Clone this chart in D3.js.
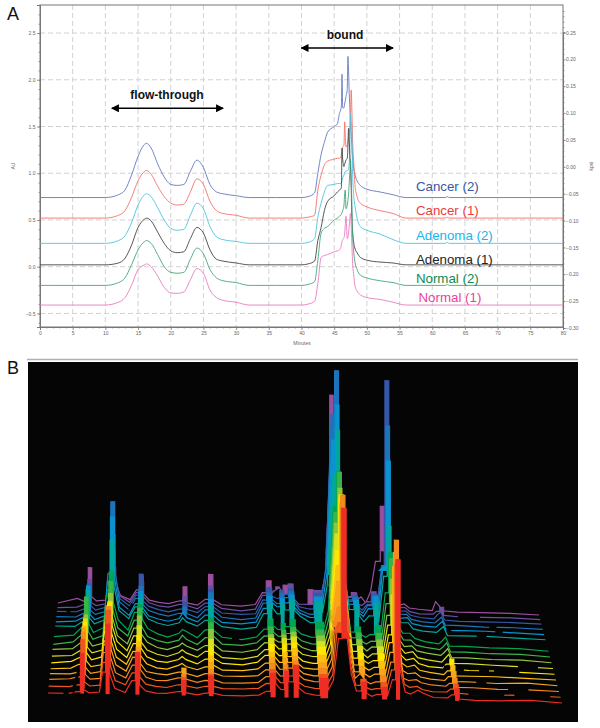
<!DOCTYPE html>
<html>
<head>
<meta charset="utf-8">
<script src="https://cdn.jsdelivr.net/npm/d3@7"></script>
<style>
html,body{margin:0;padding:0;background:#fff;}
text{font-family:"Liberation Sans",Arial,sans-serif;}
</style>
</head>
<body>
<svg id="chart" width="600" height="728"></svg>
<script>
// ---------- Panel A data ----------
const minutes = [0,2,10,12,13,14,15,16,16.3,17,18,19,20,21,22,23,24,25,26,27,28,30,32,36,40,41,42,42.5,43,43.5,44,45,45.5,45.8,46,46.1,46.2,46.3,46.5,46.6,46.7,46.8,47,47.1,47.2,47.3,47.4,47.5,47.6,47.7,47.8,48,48.2,48.5,49,50,52,54,56,58,62,62.3,62.6,70,80];
const cancer2 = [.74,.74,.74,.77,.82,.98,1.18,1.31,1.32,1.27,1.10,.96,.88,.87,.88,1.02,1.14,1.06,.88,.80,.78,.76,.74,.74,.74,.75,.79,1.0,1.2,1.33,1.44,1.50,1.53,1.64,1.68,1.72,2.06,1.70,1.70,1.74,1.78,1.82,1.9,2.25,2.1,1.85,1.7,1.5,1.42,1.3,1.18,1.05,.98,.92,.87,.83,.80,.77,.74,.74,.74,.75,.74,.74,.74];
const cancer1 = [.52,.52,.52,.55,.60,.74,.92,1.02,1.03,.99,.86,.75,.68,.66,.67,.80,.94,.88,.70,.60,.57,.55,.52,.52,.52,.53,.55,.82,.98,1.09,1.13,1.15,1.16,1.16,1.17,1.2,1.24,1.28,1.3,1.55,1.4,1.28,1.3,1.34,1.38,1.42,1.5,1.62,1.89,1.7,1.4,1.1,.86,.75,.68,.64,.60,.57,.52,.52,.52,.53,.52,.52,.52];
const adenoma2 = [.25,.25,.25,.28,.33,.47,.66,.77,.78,.75,.63,.50,.41,.39,.40,.55,.68,.62,.43,.32,.29,.27,.25,.25,.25,.26,.30,.53,.68,.80,.87,.88,.89,.89,.89,.90,.92,.95,.98,1.01,1.02,1.02,1.03,1.03,1.05,1.1,1.3,1.64,1.55,1.42,1.05,.75,.64,.52,.43,.39,.35,.29,.25,.25,.25,.26,.25,.25,.25];
const adenoma1 = [.02,.02,.02,.04,.09,.23,.42,.51,.52,.49,.37,.25,.17,.15,.16,.30,.42,.36,.18,.08,.06,.04,.02,.02,.02,.03,.06,.28,.42,.60,.70,.76,.80,.82,.83,.85,1.27,1.15,1.07,1.1,1.12,1.14,1.16,1.28,1.48,1.35,1.2,1.07,.85,.54,.40,.25,.19,.15,.10,.07,.05,.04,.02,.02,.02,.02,.02,.02,.02];
const normal2 = [-.20,-.20,-.20,-.17,-.12,.02,.18,.27,.28,.25,.13,.0,-.06,-.07,-.06,.08,.20,.14,-.03,-.12,-.15,-.17,-.20,-.20,-.20,-.19,-.16,.07,.36,.41,.43,.50,.52,.54,.55,.56,.58,.60,.66,.78,.82,.62,.66,.71,.78,.9,1.02,1.14,.95,.7,.36,.15,.04,-.03,-.09,-.12,-.15,-.17,-.20,-.20,-.20,-.19,-.20,-.20,-.20];
const normal1 = [-.41,-.41,-.41,-.38,-.33,-.20,-.03,.02,.03,.0,-.10,-.22,-.28,-.285,-.27,-.14,-.02,-.07,-.25,-.33,-.36,-.38,-.41,-.41,-.41,-.40,-.37,-.18,.10,.12,.13,.16,.17,.18,.20,.24,.27,.29,.31,.35,.45,.54,.30,.31,.36,.44,.52,.57,.45,.25,.07,-.10,-.21,-.26,-.30,-.33,-.35,-.38,-.41,-.41,-.41,-.41,-.41,-.41,-.41];
const seriesNames = ["Cancer (2)","Cancer (1)","Adenoma (2)","Adenoma (1)","Normal (2)","Normal (1)"];
const seriesValues = [cancer2,cancer1,adenoma2,adenoma1,normal2,normal1];
const seriesLine = ["#6478c0","#f2736c","#4cc4de","#444444","#46a67a","#e87cc0"];
const seriesLabel = ["#3a55a4","#ed3b3b","#1ab5e8","#222222","#0f8a50","#ec3f9b"];
const labelLevels = [.81,.555,.285,.03,-.175,-.375];
const auTicks = [-.5,0,.5,1,1.5,2,2.5];
const kpsiTicks = [-.30,-.25,-.20,-.15,-.10,-.05,0,.05,.10,.15,.20,.25];
const minuteTicks = d3.range(0,81,5);

// ---------- Panel B data ----------
const gridT = [0,4,5.6,6.3,7,8, 10,10.6,11.2,12,13,15, 16.3,17,17.8,19,21,23, 25.3,26,26.8,29, 30.6,31.3,32.2,34,38,41, 42.5,43.3,44.3,45.3,46,46.8,47.8,48.8, 50,52,53,54.5,55.5, 56.5,57.2,58,59, 60,61,62,63,64,65,66, 67,67.7,68.5,69.5, 70.5,72,73,75,77.8, 78.5,79.2,80, 83,88,94,100];
const run0  = [0,0,2,40,4,1, 2,22,70,20,6,2, 14,42,10,4,2,2, 4,15,3,1, 3,20,3,1,1,2, 6,24,14,8,26,16,32,10, 5,3,20,8,18, 60,190,70,25, 8,17,6,3,5,12,3, 20,140,30,8, 6,10,7,3,3, 6,12,2, 1,1,2,0];
const run1  = [1,1,3,48,6,2, 3,26,78,24,8,4, 16,36,12,5,3,2, 5,12,4,2, 4,16,4,2,2,3, 8,22,15,9,22,16,27,10, 6,4,18,9,18, 70,185,95,28, 8,14,6,4,5,11,4, 24,130,36,10, 7,8,5,3,3, 6,11,2, 1,1,1,0];
const run2  = [2,3,5,50,8,3, 4,30,76,26,10,5, 18,32,14,6,3,3, 6,10,5,2, 4,15,5,2,2,3, 9,22,16,10,21,18,25,12, 7,5,18,10,20, 80,192,110,32, 9,14,7,4,6,12,5, 26,148,40,10, 8,9,6,4,3, 6,11,2, 2,1,1,0];
const run3  = [2,2,4,48,9,3, 5,32,70,28,12,6, 20,30,14,6,4,3, 6,10,5,2, 5,16,6,3,3,4, 10,22,18,11,22,18,24,12, 7,5,18,11,22, 100,180,100,36, 10,15,8,5,8,13,6, 30,130,44,12, 9,10,6,4,3, 7,12,2, 2,1,2,0];
const run4  = [1,2,6,44,10,4, 6,30,60,30,14,7, 20,30,16,8,4,3, 7,9,6,3, 6,17,8,3,3,5, 11,22,18,12,22,18,26,12, 7,6,20,12,24, 110,170,105,40, 11,16,9,6,9,15,7, 34,110,46,14, 10,12,7,5,3, 7,12,2, 2,2,1,0];
const run5  = [1,3,7,42,12,5, 8,34,62,32,16,8, 22,30,18,9,5,4, 7,10,7,3, 8,18,9,4,3,6, 13,24,18,13,24,18,26,13, 8,6,22,12,26, 120,175,110,44, 12,17,10,7,10,17,8, 36,60,50,16, 11,13,8,5,4, 8,13,3, 2,2,1,0];
const run6  = [2,3,8,40,12,6, 9,36,58,34,18,9, 24,34,18,10,6,4, 8,11,8,4, 10,22,10,4,3,6, 13,24,19,14,24,19,26,14, 9,7,22,13,28, 130,165,110,46, 13,18,11,7,11,18,9, 40,70,52,18, 12,14,8,6,4, 8,12,3, 3,2,1,0];
const run7  = [3,4,10,38,14,7, 10,38,60,36,18,10, 26,38,20,12,7,5, 9,12,9,5, 10,26,12,5,4,7, 14,22,18,15,22,18,25,15, 10,7,22,14,30, 135,170,115,50, 14,19,12,8,12,19,10, 44,80,56,20, 13,14,9,7,5, 8,12,3, 3,2,2,0];
const run8  = [2,5,12,50,16,8, 12,42,66,38,20,12, 28,40,22,12,8,6, 9,14,10,5, 12,27,14,6,5,8, 15,24,19,15,21,18,24,16, 11,8,22,14,34, 140,180,120,52, 15,20,12,9,12,20,10, 50,95,60,22, 14,14,9,7,5, 8,12,3, 3,2,2,0];
const run9  = [4,6,14,44,18,9, 14,46,70,40,22,12, 30,38,24,14,9,6, 10,14,12,6, 14,26,14,7,5,8, 16,26,20,16,22,19,26,17, 12,9,24,16,36, 140,175,125,55, 15,20,13,10,13,22,11, 55,95,62,24, 15,15,10,7,5, 8,12,3, 3,2,2,0];
const run10 = [3,3,8,40,12,6, 10,40,90,44,20,12, 24,33,20,12,8,6, 9,14,10,6, 12,26,12,6,4,6, 20,30,26,20,30,24,34,24, 18,12,32,22,50, 160,205,150,60, 26,30,20,14,20,32,14, 60,110,70,26, 14,14,8,6,5, 8,11,2, 2,2,1,0];
const run11 = [2,3,7,38,10,5, 9,44,108,48,18,10, 22,34,18,10,7,5, 8,14,9,5, 12,28,12,5,4,6, 20,32,26,22,30,26,34,22, 16,12,32,22,56, 190,225,160,60, 26,30,18,14,22,34,14, 65,170,70,24, 13,14,8,6,5, 8,11,2, 2,2,1,0];
const run12 = [2,2,6,34,9,5, 8,46,118,50,18,10, 22,34,16,10,7,5, 8,14,8,4, 12,29,12,5,3,5, 20,30,24,20,30,26,32,22, 14,10,28,22,60, 210,254,150,50, 24,28,16,12,20,30,12, 60,200,66,22, 12,12,7,5,4, 7,10,2, 2,1,1,0];
const run13 = [2,2,5,30,8,4, 7,34,80,40,16,9, 20,41,14,9,6,4, 7,14,7,4, 10,27,10,4,3,4, 18,30,22,20,28,24,30,18, 12,10,26,20,50, 170,200,110,40, 20,24,14,10,16,26,10, 55,240,60,18, 10,10,6,4,3, 7,10,2, 1,1,1,0];
const run14 = [1,2,5,30,7,4, 6,30,60,30,14,8, 18,34,14,8,5,4, 7,15,6,3, 9,26,9,4,2,4, 18,26,20,24,26,20,30,16, 10,10,24,18,40, 160,190,80,32, 18,22,12,10,14,24,8, 40,110,45,16, 9,9,5,3,3, 6,10,2, 1,1,1,0];
const run15 = [1,6,3,37,8,4, 5,18,38,20,10,6, 16,24,12,6,4,3, 6,20,4,2, 8,33,8,3,2,4, 16,28,18,22,16,24,12,6, 4,20,10,8,24, 215,170,60,26, 14,18,10,14,8,20,50, 105,70,30,12, 6,8,4,3,2, 11,7,2, 1,1,1,0];
const runs = [run0,run1,run2,run3,run4,run5,run6,run7,run8,run9,run10,run11,run12,run13,run14,run15];
const runDepth = [0,1,2,3,4,5,6,7,8,9,11,11.9,12.8,13.7,14.5,15.3];
const runColor = ["#ee2e24","#f1561f","#f58a1f","#f9a51a","#fdc010","#ffe600","#d9e021","#8dc63f","#39b54a","#00a651","#00a79d","#0a93d1","#1c75bc","#3558a8","#6a4fa3","#9b4f9e"];
const gapRun   = [0,0,1,1,14,12,11,11,10,5,5,5,2,13,12,6,9,3];
const gapStart = [3,4.8,82,91,83,89,80,90,86,78,85,88,90,2,15,93,36,84];
const gapEnd   = [4,6,89,98,87.5,90.5,81,91.5,88,82,87,93,94,2.8,15.7,97,37.5,86];
const solidFloor = 60;

// ---------- Drawing ----------
const svg = d3.select("#chart");
svg.append("defs").selectAll("marker").data(["start","end"]).join("marker")
  .attr("id",d=>"ah-"+d).attr("markerUnits","userSpaceOnUse")
  .attr("viewBox","0 0 8 8").attr("refX",d=>d==="end"?7:1).attr("refY",4)
  .attr("markerWidth",8).attr("markerHeight",8).attr("orient","auto")
  .append("path").attr("d",d=>d==="end"?"M0,0L8,4L0,8Z":"M8,0L0,4L8,8Z").attr("fill","#000");

svg.append("text").text("A").attr("x",7).attr("y",20).attr("font-size",18).attr("fill","#111");
svg.append("text").text("B").attr("x",7).attr("y",374).attr("font-size",18).attr("fill","#111");

// Panel A
const xA = d3.scaleLinear().domain([0,80]).range([40,563]);
const yA = d3.scaleLinear().domain([-.645,2.8]).range([327,5]);
const yK = d3.scaleLinear().domain([-.30,.25]).range([328,32.5]);
const A = svg.append("g");
A.append("g").selectAll("line").data(minuteTicks.slice(1,-1)).join("line")
  .attr("x1",d=>xA(d)).attr("x2",d=>xA(d)).attr("y1",yA.range()[1]).attr("y2",yA.range()[0])
  .attr("stroke","#d2d2d2").attr("stroke-dasharray","5,3");
A.append("g").selectAll("line").data(auTicks).join("line")
  .attr("y1",d=>yA(d)).attr("y2",d=>yA(d)).attr("x1",40).attr("x2",563)
  .attr("stroke","#d2d2d2").attr("stroke-dasharray","5,3");
A.append("rect").attr("x",40).attr("y",5).attr("width",523).attr("height",322)
  .attr("fill","none").attr("stroke","#777");

function styleAxis(g){
  g.select(".domain").attr("stroke","#777");
  g.selectAll(".tick line").attr("stroke","#777").attr("stroke-width",.7);
  g.selectAll("text").attr("font-size",5).attr("fill","#666");
}
A.append("g").attr("transform","translate(0,327)")
  .call(d3.axisBottom(xA).tickValues(d3.range(0,81,1)).tickSize(1.5).tickFormat(""))
  .call(styleAxis);
A.append("g").attr("transform","translate(0,327)")
  .call(d3.axisBottom(xA).tickValues(minuteTicks).tickSize(3).tickPadding(1.5).tickFormat(d3.format("d")))
  .call(styleAxis);
A.append("g").attr("transform","translate(40,0)")
  .call(d3.axisLeft(yA).tickValues(d3.range(-.6,2.75,.1)).tickSize(1.5).tickFormat(""))
  .call(styleAxis);
A.append("g").attr("transform","translate(40,0)")
  .call(d3.axisLeft(yA).tickValues(auTicks).tickSize(3).tickPadding(1.5).tickFormat(d3.format(".1f")))
  .call(styleAxis);
A.append("g").attr("transform","translate(563,0)")
  .call(d3.axisRight(yK).tickValues(d3.range(-.29,.295,.01)).tickSize(1.5).tickFormat(""))
  .call(styleAxis);
A.append("g").attr("transform","translate(563,0)")
  .call(d3.axisRight(yK).tickValues(kpsiTicks).tickSize(2.5).tickPadding(.5).tickFormat(d3.format(".2f")))
  .call(styleAxis);
A.append("text").text("Minutes").attr("x",302).attr("y",345).attr("text-anchor","middle").attr("font-size",5).attr("fill","#666");
A.append("text").text("AU").attr("transform","translate(15,166) rotate(-90)").attr("text-anchor","middle").attr("font-size",5).attr("fill","#666");
A.append("text").text("kpsi").attr("transform","translate(593,166) rotate(-90)").attr("text-anchor","middle").attr("font-size",5).attr("fill","#666");

const lineA = d3.line().x((d,i)=>xA(minutes[i])).y(d=>yA(d)).curve(d3.curveMonotoneX);
A.append("g").selectAll("path").data(seriesValues).join("path")
  .attr("d",lineA).attr("fill","none").attr("stroke",(d,i)=>seriesLine[i]).attr("stroke-width",.9);
A.append("g").selectAll("text").data(seriesNames).join("text").text(d=>d)
  .attr("x",(d,i)=>i===5?xA(57.9):xA(57.5)).attr("y",(d,i)=>yA(labelLevels[i]))
  .attr("font-size",13.3).attr("fill",(d,i)=>seriesLabel[i]);

A.append("text").text("flow-through").attr("x",167).attr("y",99).attr("text-anchor","middle")
  .attr("font-size",12).attr("font-weight","bold").attr("fill","#111");
A.append("text").text("bound").attr("x",345).attr("y",39).attr("text-anchor","middle")
  .attr("font-size",12).attr("font-weight","bold").attr("fill","#111");
[[xA(11),xA(28),yA(1.695)],[xA(40),xA(54),yA(2.34)]].forEach(([a,b,y])=>{
  A.append("line").attr("x1",a).attr("x2",b).attr("y1",y).attr("y2",y)
    .attr("stroke","#000").attr("stroke-width",1.6)
    .attr("marker-start","url(#ah-start)").attr("marker-end","url(#ah-end)");
});
svg.append("line").attr("x1",27).attr("x2",578).attr("y1",359.5).attr("y2",359.5).attr("stroke","#b0b0b0").attr("stroke-width",1.4);

// Panel B
const B = svg.append("g");
B.append("rect").attr("x",28).attr("y",362).attr("width",550).attr("height",360).attr("fill","#050505");
const leftX  = d3.scaleLinear().domain([0,15.3]).range([48,58]);
const rightX = d3.scaleLinear().domain([0,15.3]).range([562,539]);
const leftY  = d3.scaleLinear().domain([0,15.3]).range([693,604]);
const rightY = d3.scaleLinear().domain([0,15.3]).range([703,615]);
const hScale = d3.scaleLinear().domain([0,300]).range([0,300]);

const isTip = (vals,i)=>{
  if(i<=0||i>=vals.length-1) return false;
  const v = vals[i], m = Math.max(vals[i-1],vals[i+1]);
  if(!(v>vals[i-1]&&v>=vals[i+1])) return false;
  return (v>=15&&v>=1.15*m)||(v>=9&&v>=1.6*m);
};
// A narrow peak keeps a flat top and straight sides; everything else joins point to point.
function shape(vals){
  const out = [];
  vals.forEach((v,i)=>{
    if(isTip(vals,i)||(i>0&&i<vals.length-1&&v>=150&&v>vals[i-1]&&v>=vals[i+1])){
      out.push({t:gridT[i],v:vals[i-1]},{t:gridT[i],v},{t:gridT[i+1],v});
    } else {
      out.push({t:gridT[i],v});
    }
  });
  return out;
}

d3.range(runs.length-1,-1,-1).forEach(k=>{
  const dp = runDepth[k];
  const xT = d3.scaleLinear().domain([0,100]).range([leftX(dp),rightX(dp)]);
  const bT = d3.scaleLinear().domain([0,100]).range([leftY(dp),rightY(dp)]);
  const vals = runs[k];
  const pts = shape(vals);
  const g = B.append("g");
  g.append("path").datum(pts)
    .attr("d",d3.area().x(d=>xT(d.t)).y0(d=>bT(d.t)+1).y1(d=>bT(d.t)-hScale(d.v)))
    .attr("fill","#050505");
  // tall peaks read as solid columns above a floor
  g.append("path").datum(pts)
    .attr("d",d3.area().x(d=>xT(d.t))
      .y0(d=>bT(d.t)-hScale(solidFloor))
      .y1(d=>bT(d.t)-hScale(Math.max(d.v,solidFloor))))
    .attr("fill",runColor[k]);
  // narrow peaks are solid right down to the trace's floor
  const tips = vals.map((v,i)=>({v,i,t:gridT[i]}))
    .filter(d=>isTip(vals,d.i)&&Math.max(vals[d.i-1],vals[d.i+1])<solidFloor);
  g.append("g").selectAll("rect").data(tips).join("rect")
    .attr("x",d=>xT(d.t)).attr("width",d=>xT(gridT[d.i+1])-xT(d.t))
    .attr("y",d=>bT(d.t)-hScale(d.v))
    .attr("height",d=>hScale(d.v))
    .attr("fill",runColor[k]);
  g.append("path").datum(pts)
    .attr("d",d3.line().x(d=>xT(d.t)).y(d=>bT(d.t)-hScale(d.v)))
    .attr("fill","none").attr("stroke",runColor[k]).attr("stroke-width",1.2);
  // broken stretches of the trace
  const at = t=>{
    const i = d3.bisectRight(gridT,t)-1;
    const a = vals[Math.max(0,i)], b = vals[Math.min(gridT.length-1,i+1)];
    const f = (t-gridT[i])/((gridT[i+1]||t+1)-gridT[i]);
    return bT(t)-hScale(a+(b-a)*f);
  };
  gapRun.forEach((r,j)=>{
    if(r!==k) return;
    g.append("line").attr("x1",xT(gapStart[j])).attr("x2",xT(gapEnd[j]))
      .attr("y1",at(gapStart[j])).attr("y2",at(gapEnd[j]))
      .attr("stroke","#050505").attr("stroke-width",3);
  });
});
</script>
</body>
</html>
